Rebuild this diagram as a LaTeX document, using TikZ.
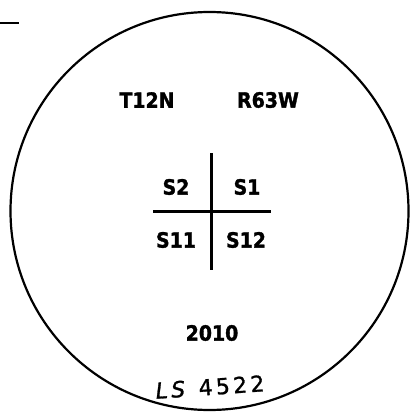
\documentclass[tikz,border=0pt]{standalone}
\usepackage{fontspec}
\usepackage{tikz}
\usetikzlibrary{positioning}
\newfontfamily\platfont[FakeStretch=0.9, BoldFeatures={FakeBold=1.5}]{DejaVu Sans}
\newfontfamily\handfont[LetterSpace=15, FakeBold=1.2]{DejaVu Sans}

\begin{document}
\begin{tikzpicture}[x=1pt, y=-1pt,
  lbl/.style={font=\platfont\bfseries\fontsize{21}{21}\selectfont, inner sep=0pt},
  rule/.style={line width=3pt},
]
\useasboundingbox (0,0) rectangle (409,417);
\node[draw, circle, line width=2.2pt, minimum size=398pt, inner sep=0pt] (sec) at (209.5,211) {};
% stray tick at the top left
\coordinate (tka) at (0,23);
\coordinate (tkb) at (19,23);
\draw[line width=1.5pt] (tka) -- (tkb);

\node[lbl] (twp) at (147,100) {T12N};
\node[lbl] (rng) at (268,100) {R63W};

% section cross
\coordinate (cn) at (211.5,153);
\coordinate (cs) at (211.5,270);
\coordinate (cw) at (153,211);
\coordinate (ce) at (271,211);
\draw[rule] (cn) -- (cs);
\draw[rule] (cw) -- (ce);

\node[lbl] (s2) at (176,187) {S2};
\node[lbl] (s1) at (247,187) {S1};
\node[lbl] (s11) at (176,240) {S11};
\node[lbl] (s12) at (246,240) {S12};

\node[lbl] (yr) at (212,333) {2010};
\node[font=\handfont\fontsize{22}{22}\selectfont, inner sep=0pt, rotate=4] (ls) at (210,387) {\textsl{LS} 4522};
\end{tikzpicture}
\end{document}
